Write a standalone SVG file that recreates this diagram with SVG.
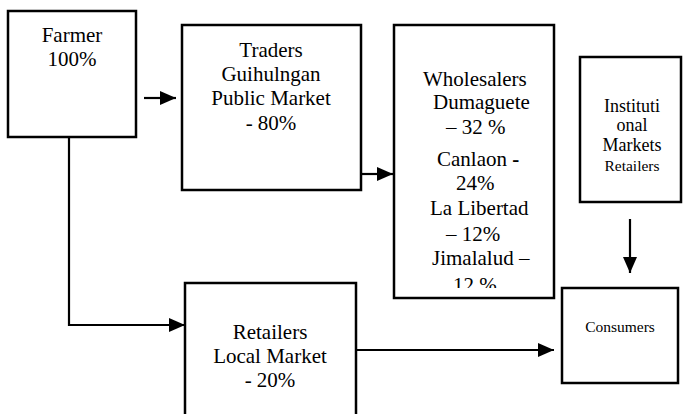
<svg xmlns="http://www.w3.org/2000/svg" width="683" height="414" viewBox="0 0 683 414">
<defs>
<style>
.box{fill:#fff;stroke:#000;stroke-width:2.5}
.t{font-family:'Liberation Serif','DejaVu Serif','Times New Roman',serif;font-size:21px;fill:#000}
.c{text-anchor:middle}
.s18{font-size:18px}
.s15{font-size:15.5px}
.conn{fill:none;stroke:#000;stroke-width:2.2}
</style>
<marker id="ah" markerUnits="userSpaceOnUse" markerWidth="16" markerHeight="14" refX="16" refY="7" orient="auto">
<path d="M0,0 L16,7 L0,14 z" fill="#000"/>
</marker>
<clipPath id="wclip"><rect x="394" y="25" width="160" height="263"/></clipPath>
</defs>
<rect width="683" height="414" fill="#fff"/>
<g id="connectors">
<line class="conn" x1="144" y1="98" x2="176" y2="98" marker-end="url(#ah)"/>
<line class="conn" x1="361" y1="174" x2="393" y2="174" marker-end="url(#ah)"/>
<polyline class="conn" points="69,137 69,325 185,325" marker-end="url(#ah)"/>
<line class="conn" x1="356" y1="350" x2="554" y2="350" marker-end="url(#ah)"/>
<line class="conn" x1="630" y1="219" x2="630" y2="273" marker-end="url(#ah)"/>
</g>
<g id="farmer">
<rect class="box" x="8" y="11" width="128" height="126"/>
<text class="t c" x="72" y="42">Farmer</text>
<text class="t c" x="72" y="66">100%</text>
</g>
<g id="traders">
<rect class="box" x="182" y="25" width="179" height="165"/>
<text class="t c" x="271" y="57">Traders</text>
<text class="t c" x="271" y="81">Guihulngan</text>
<text class="t c" x="271" y="105">Public Market</text>
<text class="t c" x="271" y="130">- 80%</text>
</g>
<g id="wholesalers">
<rect class="box" x="394" y="25" width="160" height="273"/>
<g clip-path="url(#wclip)">
<text class="t" x="423" y="86">Wholesalers</text>
<text class="t" x="433" y="109">Dumaguete</text>
<text class="t" x="446" y="134">– 32 %</text>
<text class="t" x="437" y="166">Canlaon <tspan font-weight="bold">-</tspan></text>
<text class="t" x="456" y="190">24%</text>
<text class="t" x="430" y="215">La Libertad</text>
<text class="t" x="446" y="241">– 12%</text>
<text class="t" x="432" y="265">Jimalalud –</text>
<text class="t" x="453" y="292">12 %</text>
</g>
</g>
<g id="institutional">
<rect class="box" x="580" y="57" width="101" height="145"/>
<text class="t c s18" x="632" y="112">Instituti</text>
<text class="t c s18" x="632" y="131">onal</text>
<text class="t c s18" x="632" y="151">Markets</text>
<text class="t c s15" x="632" y="171">Retailers</text>
</g>
<g id="retailers">
<rect class="box" x="185" y="283" width="171" height="140"/>
<text class="t c" x="270" y="339">Retailers</text>
<text class="t c" x="270" y="363">Local Market</text>
<text class="t c" x="270" y="387">- 20%</text>
</g>
<g id="consumers">
<rect class="box" x="562" y="288" width="116" height="95"/>
<text class="t c s15" x="620" y="332">Consumers</text>
</g>
</svg>
